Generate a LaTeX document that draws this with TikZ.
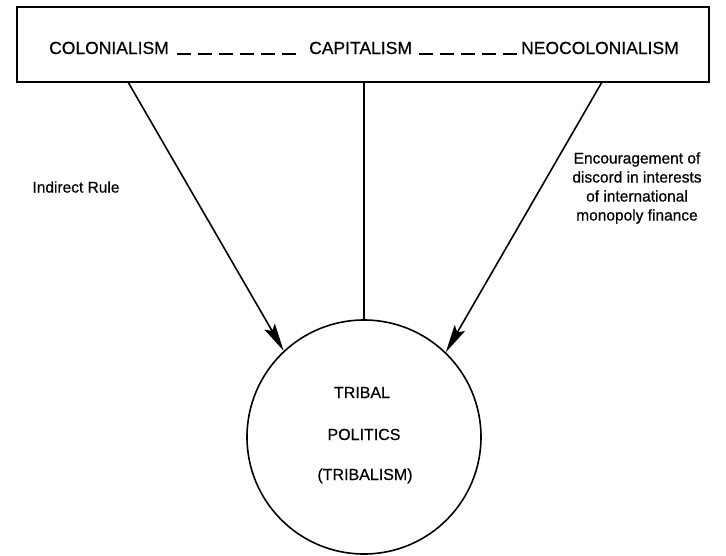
\documentclass[tikz,border=0pt]{standalone}
\usepackage{fontspec}
\setmainfont{Liberation Sans}[FakeBold=0.6]
\usetikzlibrary{arrows.meta}
\begin{document}
\begin{tikzpicture}[x=1pt,y=-1pt,
  line/.style={line width=1.6pt, black},
  arr/.style={line, -{Stealth[length=28pt,width=12pt,inset=5pt]}},
  toptext/.style={font=\fontsize{17.5}{20}\selectfont, inner sep=0pt, anchor=base west},
  lab/.style={font=\fontsize{15.5}{19}\selectfont, inner sep=0pt, align=center},
  ctext/.style={font=\fontsize{16}{19}\selectfont, inner sep=0pt, anchor=base},
  dashline/.style={line width=1.3pt, dash pattern=on 14pt off 7pt}]
\useasboundingbox (0,0) rectangle (726,555);
% top box
\node[draw, line width=1.5pt, minimum width=692pt, minimum height=75pt, inner sep=0pt] (box) at (363,44.5) {};
\node[toptext] (col) at (49,54) {COLONIALISM};
\node[toptext] (cap) at (309,54) {CAPITALISM};
\node[toptext] (neo) at (521,54) {NEOCOLONIALISM};
\coordinate (d1a) at (177,54);
\coordinate (d1b) at (296,54);
\coordinate (d2a) at (419,54);
\coordinate (d2b) at (517,54);
\draw[dashline] (d1a) -- (d1b);
\draw[dashline] (d2a) -- (d2b);
% circle
\node[draw, circle, line width=1.6pt, minimum size=234pt, inner sep=0pt] (circ) at (364,437) {};
\node[ctext] (t1) at (362,398) {TRIBAL};
\node[ctext] (t2) at (364,440) {POLITICS};
\node[ctext] (t3) at (365,480) {(TRIBALISM)};
% connectors
\coordinate (l1) at (128,82);
\coordinate (m1) at (364,82);
\coordinate (r1) at (602,82);
\draw[arr] (l1) -- (circ.133.3);
\draw[line] (m1) -- (circ.north);
\draw[arr] (r1) -- (circ.46.4);
% labels
\node[lab] (ir) at (76,187) {Indirect Rule};
\node[lab] (enc) at (637,188) {Encouragement of\\discord in interests\\of international\\monopoly finance};
\end{tikzpicture}
\end{document}
